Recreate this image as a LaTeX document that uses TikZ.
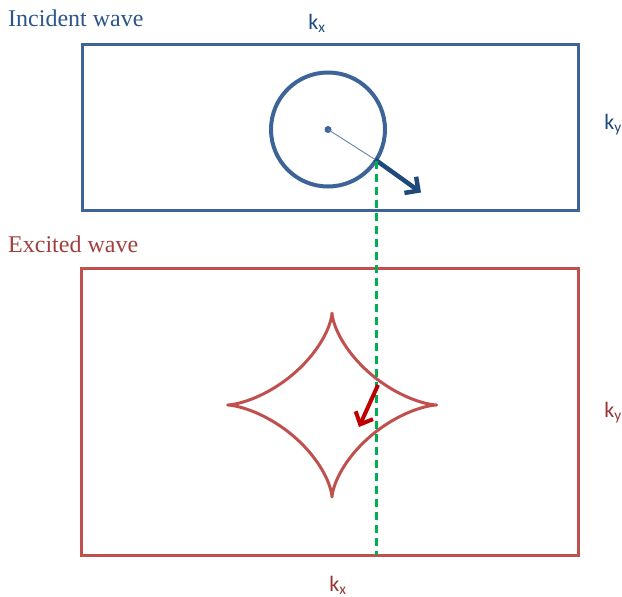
\documentclass[tikz,border=0pt]{standalone}
\usepackage{fontspec}
\setmainfont{Liberation Serif}
\newfontfamily\calib{Carlito}
\usetikzlibrary{arrows.meta}
\definecolor{bframe}{HTML}{3D6496}
\definecolor{bdark}{HTML}{1F497D}
\definecolor{btext}{HTML}{2C5686}
\definecolor{rframe}{HTML}{C0504D}
\definecolor{rtext}{HTML}{A0403D}
\definecolor{rdark}{HTML}{953735}
\definecolor{rarrow}{HTML}{C00000}
\definecolor{gline}{HTML}{00B050}
\tikzset{
  title/.style={font=\fontsize{24}{26}\selectfont, anchor=base west, inner sep=0pt},
  axis/.style={font=\calib\fontsize{22}{24}\selectfont, inner sep=0pt},
  frame/.style={draw, line width=3pt, rectangle, inner sep=0pt, outer sep=0pt},
}
\begin{document}
\begin{tikzpicture}[x=1pt,y=-1pt]
\useasboundingbox (0,0) rectangle (622,597);
% titles
\node[title, text=btext] (inc) at (8,27) {Incident wave};
\node[title, text=rtext] (exc) at (8,252) {Excited wave};
% frames
\node[frame, draw=bframe, minimum width=496pt, minimum height=166pt] (topbox) at (330,127) {};
\node[frame, draw=rframe, minimum width=497pt, minimum height=287pt] (botbox) at (330,411.5) {};
% axis labels
\node[axis, text=bdark] (kx1) at (317,23) {k\textsubscript{x}};
\node[axis, text=bdark] (ky1) at (613,125) {k\textsubscript{y}};
\node[axis, text=rdark] (ky2) at (613,413) {k\textsubscript{y}};
\node[axis, text=rdark] (kx2) at (338,585) {k\textsubscript{x}};
% circle
\node[draw=bframe, line width=4pt, circle, minimum size=114pt, inner sep=0pt, outer sep=0pt] (circ) at (328,129.5) {};
\fill[bframe] (circ.center) circle (3.5pt);
\coordinate (edge) at (375,159.5);
\coordinate (btip) at (421,192.5);
\draw[bframe!80, line width=0.9pt] (circ.center) -- (edge);
\draw[bdark, line width=4.5pt, -{Straight Barb[length=10pt,width=20pt,line width=4.5pt]}] (edge) -- (btip);
% astroid
\draw[rframe, line width=3pt, line join=round]
  plot[domain=0:360, samples=240, smooth] ({332+104.5*cos(\x)*cos(\x)*cos(\x)},{405+92*sin(\x)*sin(\x)*sin(\x)}) -- cycle;
% green dashed line
\coordinate (gbot) at (376.5,555);
\draw[gline, line width=2.2pt, dash pattern=on 8pt off 5pt] (376.5,161) -- (gbot);
% red arrow
\coordinate (rstart) at (378,385);
\coordinate (rtip) at (359,427);
\draw[rarrow, line width=4pt, -{Straight Barb[length=10pt,width=19pt,line width=4pt]}] (rstart) -- (rtip);
\end{tikzpicture}
\end{document}
